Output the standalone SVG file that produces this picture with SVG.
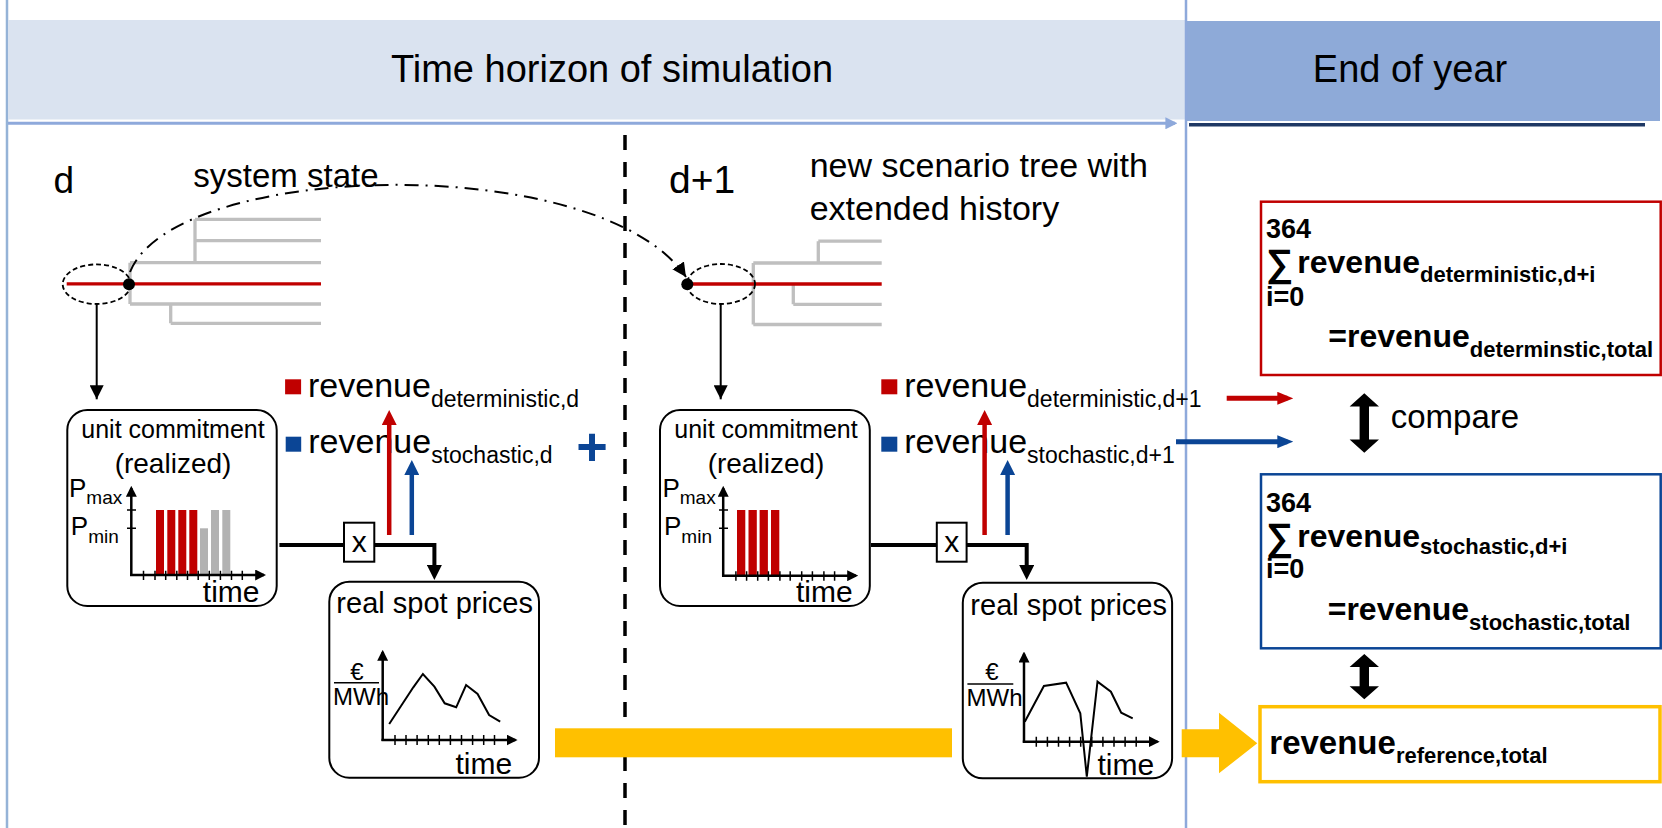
<svg xmlns="http://www.w3.org/2000/svg" width="1662" height="828" viewBox="0 0 1662 828">
<style>
text{font-family:"Liberation Sans",Arial,sans-serif;fill:#000}
.b{font-weight:bold}
.box{fill:#fff;stroke:#000;stroke-width:2}
.tree{stroke:#BFBFBF;stroke-width:3.3;fill:none}
.hist{stroke:#C00000;stroke-width:3.3}
.ax{stroke:#000;stroke-width:2.5;fill:none}
.tick{stroke:#000;stroke-width:1.5}
.red{fill:#C00000}
.gray{fill:#B2B2B2}
.blue{fill:#0B4595}
.ell{fill:none;stroke:#000;stroke-width:1.8;stroke-dasharray:5 3}
.price{fill:none;stroke:#000;stroke-width:2}
.thick{fill:none;stroke:#000;stroke-width:4}
.thin{fill:none;stroke:#000;stroke-width:2}
</style>
<defs>
<marker id="ak" viewBox="0 0 10 10" refX="10" refY="5" markerWidth="14" markerHeight="14" markerUnits="userSpaceOnUse" orient="auto"><path d="M0,0 L10,5 L0,10 z" fill="#000"/></marker>
<marker id="aa" viewBox="0 0 10 10" refX="8" refY="5" markerWidth="11" markerHeight="11" markerUnits="userSpaceOnUse" orient="auto"><path d="M0,0 L10,5 L0,10 z" fill="#000"/></marker>
<marker id="akT" viewBox="0 0 10 10" refX="6" refY="5" markerWidth="15" markerHeight="15" markerUnits="userSpaceOnUse" orient="auto"><path d="M0,0 L10,5 L0,10 z" fill="#000"/></marker>
<marker id="ar" viewBox="0 0 10 10" refX="6" refY="5" markerWidth="15" markerHeight="15" markerUnits="userSpaceOnUse" orient="auto"><path d="M0,0 L10,5 L0,10 z" fill="#C00000"/></marker>
<marker id="ab" viewBox="0 0 10 10" refX="6" refY="5" markerWidth="15" markerHeight="15" markerUnits="userSpaceOnUse" orient="auto"><path d="M0,0 L10,5 L0,10 z" fill="#0B4595"/></marker>
<marker id="ar2" viewBox="0 0 16 13" refX="10" refY="6.5" markerWidth="16" markerHeight="13" markerUnits="userSpaceOnUse" orient="auto"><path d="M0,0 L16,6.5 L0,13 z" fill="#C00000"/></marker>
<marker id="ab2" viewBox="0 0 16 13" refX="10" refY="6.5" markerWidth="16" markerHeight="13" markerUnits="userSpaceOnUse" orient="auto"><path d="M0,0 L16,6.5 L0,13 z" fill="#0B4595"/></marker>
<marker id="alb" viewBox="0 0 10 10" refX="8" refY="5" markerWidth="12" markerHeight="12" markerUnits="userSpaceOnUse" orient="auto"><path d="M0,0 L10,5 L0,10 z" fill="#8EA9DB"/></marker>
</defs>

<g id="frame">
<rect x="0" y="0" width="1662" height="828" fill="#fff"/>
<line x1="7" y1="0" x2="7" y2="828" stroke="#95B3D7" stroke-width="2.5"/>
</g>

<g id="header-simulation">
<rect x="8" y="20" width="1177" height="99.5" fill="#DAE3F0"/>
<text x="612" y="82" font-size="38" text-anchor="middle">Time horizon of simulation</text>
<line x1="8" y1="123.3" x2="1175" y2="123.3" stroke="#8EA9DB" stroke-width="3" marker-end="url(#alb)"/>
</g>
<g id="header-endofyear">
<rect x="1187" y="21" width="473" height="100" fill="#8EAAD8"/>
<text x="1410" y="82" font-size="38" text-anchor="middle">End of year</text>
<line x1="1189" y1="124.7" x2="1645" y2="124.7" stroke="#1F3864" stroke-width="3.5"/>
</g>
<g id="dividers">
<line x1="1186" y1="0" x2="1186" y2="828" stroke="#8EA9DB" stroke-width="2.5"/>
<line x1="625" y1="135" x2="625" y2="828" stroke="#000" stroke-width="3.5" stroke-dasharray="15 12"/>
</g>

<g id="label-d">
<text x="53.6" y="192.7" font-size="37">d</text>
<text x="193.3" y="186.5" font-size="33">system state</text>
</g>
<g id="label-d1">
<text x="669" y="192.7" font-size="39">d+1</text>
<text x="809.7" y="176.7" font-size="34">new scenario tree with</text>
<text x="809.7" y="220" font-size="34">extended history</text>
</g>

<g id="tree-d">
<path class="tree" d="M195,219.3 H321 M195,240.7 H321 M130,262.7 H321 M130,304 H321 M170.7,323.3 H321 M130,262.7 V304 M195,219.3 V262.7 M170.7,304 V323.3"/>
<line class="hist" x1="66.7" y1="283.8" x2="321" y2="283.8"/>
<ellipse class="ell" cx="96.7" cy="284.2" rx="34" ry="19.8"/>
<circle cx="129" cy="284.3" r="6" fill="#000"/>
</g>
<g id="tree-d1">
<path class="tree" d="M818.3,241.2 H881.7 M753.3,263 H881.7 M793.3,304.3 H881.7 M753.3,324.5 H881.7 M753.3,263 V324.5 M818.3,241.2 V263 M793.3,284 V304.3"/>
<line class="hist" x1="687.3" y1="284" x2="881.7" y2="284"/>
<ellipse class="ell" cx="721" cy="284" rx="34" ry="20"/>
<circle cx="687.3" cy="284.3" r="6" fill="#000"/>
</g>

<g id="uc-d">
<rect class="box" x="67.3" y="410" width="209.4" height="196" rx="20"/>
<text x="173" y="437.7" font-size="25" text-anchor="middle">unit commitment</text>
<text x="173" y="473.3" font-size="28" text-anchor="middle">(realized)</text>
<text x="69" y="496.7" font-size="26">P<tspan font-size="19" dy="7.6">max</tspan></text>
<text x="70.8" y="535" font-size="26">P<tspan font-size="19" dy="8.3">min</tspan></text>
<rect class="red" x="156" y="510" width="8" height="65"/>
<rect class="red" x="167.3" y="510" width="8" height="65"/>
<rect class="red" x="178.3" y="510" width="8" height="65"/>
<rect class="red" x="189.3" y="510" width="8" height="65"/>
<rect class="gray" x="200" y="528.3" width="8" height="46.7"/>
<rect class="gray" x="211" y="510" width="8" height="65"/>
<rect class="gray" x="222.3" y="510" width="8" height="65"/>
<line class="ax" x1="131.3" y1="576" x2="131.3" y2="488" marker-end="url(#aa)"/>
<line class="ax" x1="130" y1="575" x2="264" y2="575" marker-end="url(#aa)"/>
<path class="tick" d="M127,510 H136 M127,528.3 H136 M143.5,570.7 V580 M155,570.7 V580 M165.7,570.7 V580 M176.8,570.7 V580 M187.5,570.7 V580 M198.2,570.7 V580 M209.3,570.7 V580 M220.4,570.7 V580 M231.5,570.7 V580 M242.3,570.7 V580"/>
<text x="202.8" y="601.7" font-size="30">time</text>
</g>

<g id="uc-d1">
<rect class="box" x="660" y="410" width="209.8" height="196" rx="20"/>
<text x="766" y="437.7" font-size="25" text-anchor="middle">unit commitment</text>
<text x="766" y="473.3" font-size="28" text-anchor="middle">(realized)</text>
<text x="662.4" y="496.7" font-size="26">P<tspan font-size="19" dy="7.6">max</tspan></text>
<text x="664" y="535" font-size="26">P<tspan font-size="19" dy="8.3">min</tspan></text>
<rect class="red" x="737" y="510" width="8.3" height="65"/>
<rect class="red" x="748.5" y="510" width="8.3" height="65"/>
<rect class="red" x="759.6" y="510" width="8.3" height="65"/>
<rect class="red" x="771" y="510" width="8.3" height="65"/>
<line class="ax" x1="723.2" y1="576.7" x2="723.2" y2="488" marker-end="url(#aa)"/>
<line class="ax" x1="722" y1="575.7" x2="856" y2="575.7" marker-end="url(#aa)"/>
<path class="tick" d="M719,510 H728 M719,528.3 H728 M735.9,571.3 V580.7 M746.6,571.3 V580.7 M757.7,571.3 V580.7 M768.4,571.3 V580.7 M779.9,571.3 V580.7 M790.2,571.3 V580.7 M801.7,571.3 V580.7 M812.4,571.3 V580.7 M823.9,571.3 V580.7 M834.6,571.3 V580.7"/>
<text x="796" y="601.7" font-size="30">time</text>
</g>

<g id="mult-d">
<rect class="box" x="344" y="522.7" width="30.3" height="39"/>
<text x="359.2" y="552" font-size="30" text-anchor="middle">x</text>
</g>
<g id="mult-d1">
<rect class="box" x="936.8" y="522.7" width="29.8" height="39"/>
<text x="951.7" y="552" font-size="30" text-anchor="middle">x</text>
</g>

<g id="spot-d">
<rect class="box" x="329.3" y="581.7" width="209.7" height="196" rx="20"/>
<text x="434.7" y="613.3" font-size="29" text-anchor="middle">real spot prices</text>
<line class="ax" x1="382.7" y1="741" x2="382.7" y2="652" marker-end="url(#aa)"/>
<line class="ax" x1="381.5" y1="740" x2="515.4" y2="740" marker-end="url(#aa)"/>
<path class="tick" d="M395,735 V745 M406,735 V745 M417.1,735 V745 M428.3,735 V745 M439.3,735 V745 M450.4,735 V745 M461.5,735 V745 M472.6,735 V745 M483.7,735 V745 M494.5,735 V745"/>
<polyline class="price" points="389.2,724 413.3,687.3 422.9,674 434.4,686.7 444.7,703.3 456.2,707.3 466.1,685 477.6,694 489.1,715 500.2,721.7"/>
<text x="357" y="680" font-size="24" text-anchor="middle">€</text>
<line x1="334" y1="682.7" x2="379" y2="682.7" stroke="#000" stroke-width="1.5"/>
<text x="333" y="704.5" font-size="24">MWh</text>
<text x="455.4" y="774" font-size="30">time</text>
</g>

<g id="spot-d1">
<rect class="box" x="962.8" y="582.7" width="209.3" height="195.6" rx="20"/>
<text x="1068.7" y="615" font-size="29" text-anchor="middle">real spot prices</text>
<line class="ax" x1="1024" y1="742.7" x2="1024" y2="653.7" marker-end="url(#aa)"/>
<line class="ax" x1="1022.8" y1="741.7" x2="1157.5" y2="741.7" marker-end="url(#aa)"/>
<path class="tick" d="M1036.3,736.7 V746.7 M1047.4,736.7 V746.7 M1058.5,736.7 V746.7 M1069.6,736.7 V746.7 M1080.7,736.7 V746.7 M1091.8,736.7 V746.7 M1102.9,736.7 V746.7 M1114,736.7 V746.7 M1125.1,736.7 V746.7 M1136.2,736.7 V746.7"/>
<polyline class="price" points="1024.8,721.7 1043.9,686 1066.1,682.7 1080.3,713.3 1086.8,776.7 1097.5,681.7 1110.9,691.7 1121.2,712.7 1132.7,718.3"/>
<text x="992" y="680" font-size="24" text-anchor="middle">€</text>
<line x1="967.4" y1="684" x2="1013.3" y2="684" stroke="#000" stroke-width="1.5"/>
<text x="966.6" y="705.5" font-size="24">MWh</text>
<text x="1097.5" y="775" font-size="30">time</text>
</g>

<g id="rev-d">
<rect class="red" x="285.1" y="379.3" width="16" height="15"/>
<text x="308" y="397.3" font-size="34">revenue<tspan font-size="23" dy="9.4">deterministic,d</tspan></text>
<rect class="blue" x="285.7" y="436.7" width="15.5" height="15"/>
<text x="308.3" y="453.3" font-size="34">revenue<tspan font-size="23" dy="10">stochastic,d</tspan></text>
</g>
<g id="rev-d1">
<rect class="red" x="881.3" y="379.3" width="16" height="15"/>
<text x="904.2" y="397.3" font-size="34">revenue<tspan font-size="23" dy="9.4">deterministic,d+1</tspan></text>
<rect class="blue" x="881.3" y="436.7" width="16" height="15"/>
<text x="904.2" y="453.3" font-size="34">revenue<tspan font-size="23" dy="10">stochastic,d+1</tspan></text>
</g>
<g id="plus">
<text x="592" y="465" font-size="54" class="b" text-anchor="middle" style="fill:#0B4595">+</text>
</g>

<g id="box-deterministic">
<rect x="1261" y="201.7" width="399.7" height="173.3" fill="#fff" stroke="#C00000" stroke-width="2.5"/>
<text class="b" x="1266" y="238.3" font-size="27">364</text>
<text class="b" x="1266" y="276" font-size="38">∑</text>
<text class="b" x="1297.3" y="273.3" font-size="32">revenue<tspan font-size="22" dy="8.4">deterministic,d+i</tspan></text>
<text class="b" x="1266" y="306" font-size="27">i=0</text>
<text class="b" x="1328.3" y="346.7" font-size="32">=revenue<tspan font-size="22" dy="10">determinstic,total</tspan></text>
</g>

<g id="compare">
<path d="M1364.3,393.3 L1379,406.5 H1369 V439.5 H1379 L1364.3,452.7 L1349.6,439.5 H1359.6 V406.5 H1349.6 Z" fill="#000"/>
<text x="1390.7" y="428.3" font-size="33">compare</text>
</g>

<g id="box-stochastic">
<rect x="1261" y="474.3" width="399.7" height="174" fill="#fff" stroke="#0B4595" stroke-width="2.5"/>
<text class="b" x="1266" y="511.7" font-size="27">364</text>
<text class="b" x="1266" y="549.5" font-size="38">∑</text>
<text class="b" x="1297.3" y="546.7" font-size="32">revenue<tspan font-size="22" dy="7.3">stochastic,d+i</tspan></text>
<text class="b" x="1266" y="578.3" font-size="27">i=0</text>
<text class="b" x="1327.7" y="620" font-size="32">=revenue<tspan font-size="22" dy="10">stochastic,total</tspan></text>
</g>

<g id="compare2">
<path d="M1364.3,654 L1379,667 H1369 V686.3 H1379 L1364.3,699.3 L1349.6,686.3 H1359.6 V667 H1349.6 Z" fill="#000"/>
</g>

<g id="box-reference">
<rect x="1260" y="706.7" width="400" height="75" fill="#fff" stroke="#FFC000" stroke-width="3.5"/>
<text class="b" x="1269.3" y="754" font-size="33">revenue<tspan font-size="22" dy="9.3">reference,total</tspan></text>
</g>

<g id="connectors">
<path class="thin" d="M130,272 C175,160 600,150 686,277" stroke-width="2.2" stroke-dasharray="14 7 2 7" marker-end="url(#ak)"/>
<line class="thin" x1="96.7" y1="304" x2="96.7" y2="399.3" marker-end="url(#ak)"/>
<line class="thin" x1="720.7" y1="304" x2="720.7" y2="399.3" marker-end="url(#ak)"/>
<path class="thick" d="M279.4,545 H344"/>
<path class="thick" d="M374.3,545 H434.4 V574" marker-end="url(#akT)"/>
<path class="thick" d="M871,545 H936.8"/>
<path class="thick" d="M966.6,545 H1026.7 V574" marker-end="url(#akT)"/>
<line x1="389.2" y1="535" x2="389.2" y2="416" stroke="#C00000" stroke-width="4.5" marker-end="url(#ar)"/>
<line x1="411.8" y1="535" x2="411.8" y2="466" stroke="#0B4595" stroke-width="4.5" marker-end="url(#ab)"/>
<line x1="984.6" y1="535" x2="984.6" y2="416" stroke="#C00000" stroke-width="4.5" marker-end="url(#ar)"/>
<line x1="1007.6" y1="535" x2="1007.6" y2="466" stroke="#0B4595" stroke-width="4.5" marker-end="url(#ab)"/>
<line x1="1226.7" y1="398.3" x2="1287.3" y2="398.3" stroke="#C00000" stroke-width="5" marker-end="url(#ar2)"/>
<line x1="1176" y1="441.7" x2="1287.3" y2="441.7" stroke="#0B4595" stroke-width="5" marker-end="url(#ab2)"/>
<rect x="555" y="728.3" width="397" height="29" fill="#FFC000"/>
<path d="M1181.7,729.3 H1219 V712.7 L1257.3,743.3 L1219,773.3 V757.3 H1181.7 Z" fill="#FFC000"/>
</g>
</svg>
